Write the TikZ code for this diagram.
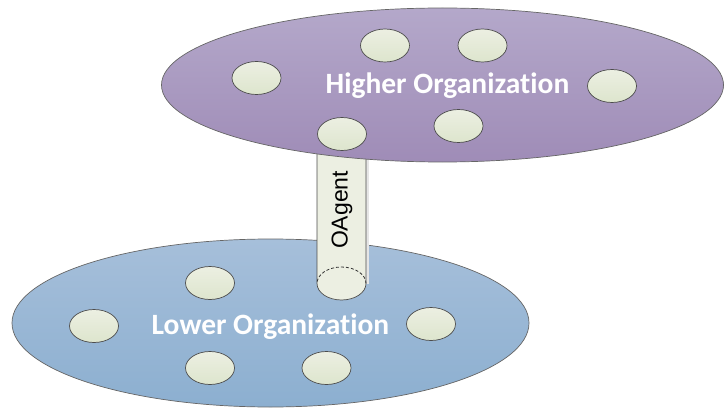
\documentclass[tikz,border=0pt]{standalone}
\usepackage{fontspec}
\newfontfamily\orgfont[Ligatures={NoCommon,NoContextual}]{Carlito}
\newfontfamily\agentfont{Liberation Sans}
\usepackage{tikz}
\usetikzlibrary{shapes.geometric}
\definecolor{higherTop}{HTML}{B4A8CA}
\definecolor{higherBot}{HTML}{9F8CB7}
\definecolor{lowerTop}{HTML}{A6BFDA}
\definecolor{lowerBot}{HTML}{8CAFD0}
\definecolor{agentTop}{HTML}{ECEFE2}
\definecolor{agentBot}{HTML}{DDE5CD}
\tikzset{
        organization/.style={ellipse, draw=black!60, line width=0.7pt, inner sep=0pt}, % the two big organizations
        orglabel/.style={text=white, anchor=base, font=\orgfont\bfseries\fontsize{29.5}{34}\selectfont}, % white title
        agent/.style={ellipse, draw=black!70, line width=0.7pt, top color=agentTop, bottom color=agentBot,
                      minimum width=49pt, minimum height=33pt, inner sep=0pt, outer sep=0pt}, % one small agent
        baseradius/.style={x radius=24.5pt, y radius=16.5pt}, % half axes of the cylinder base
}

\begin{document}
\begin{tikzpicture}[x=1pt,y=-1pt]
      \useasboundingbox (0,0) rectangle (725,409);
      % lower organization
      \node[organization, top color=lowerTop, bottom color=lowerBot, minimum width=517pt, minimum height=168pt] (lower) at (270.5,323) {};
      \node[orglabel] (lowerlabel) at (270.5,334) {Lower Organization};
      \node[agent] (l1) at (94,326) {};
      \node[agent] (l2) at (210,283) {};
      \node[agent] (l3) at (210,368) {};
      \node[agent] (l4) at (326.5,368) {};
      \node[agent] (l5) at (431,324) {};
      % OAgent cylinder between the two
      \coordinate (ctop) at (342,134);
      \node[agent, draw=none, top color=agentTop, bottom color=agentTop] (cbase) at (341.5,283.5) {};
      \fill[black!10] ([xshift=2pt]cbase.west |- ctop) rectangle ([xshift=2.5pt]cbase.east);
      \fill[agentTop] (cbase.west) -- (cbase.west |- ctop) -- (cbase.east |- ctop) -- (cbase.east)
            arc[start angle=0, end angle=-180, baseradius] -- cycle;
      \draw[line width=0.7pt, black!70] (cbase.west |- ctop) -- (cbase.west)
            arc[start angle=180, end angle=360, baseradius] -- (cbase.east |- ctop);
      \draw[line width=0.8pt, black!80, dash pattern=on 3pt off 2pt] (cbase.east) arc[start angle=0, end angle=180, baseradius];
      \node[rotate=90, font=\agentfont\fontsize{23}{26}\selectfont] (oagent) at (342,210) {OAgent};
      % higher organization
      \node[organization, top color=higherTop, bottom color=higherBot, minimum width=562pt, minimum height=154pt] (higher) at (442.5,85) {};
      \node[orglabel] (higherlabel) at (447.5,94) {Higher Organization};
      \node[agent] (h1) at (256.5,78) {};
      \node[agent] (h2) at (385,45.5) {};
      \node[agent] (h3) at (482.5,45.5) {};
      \node[agent] (h4) at (612,86) {};
      \node[agent] (h5) at (ctop) {};
      \node[agent] (h6) at (458.5,126) {};
\end{tikzpicture}
\end{document}
